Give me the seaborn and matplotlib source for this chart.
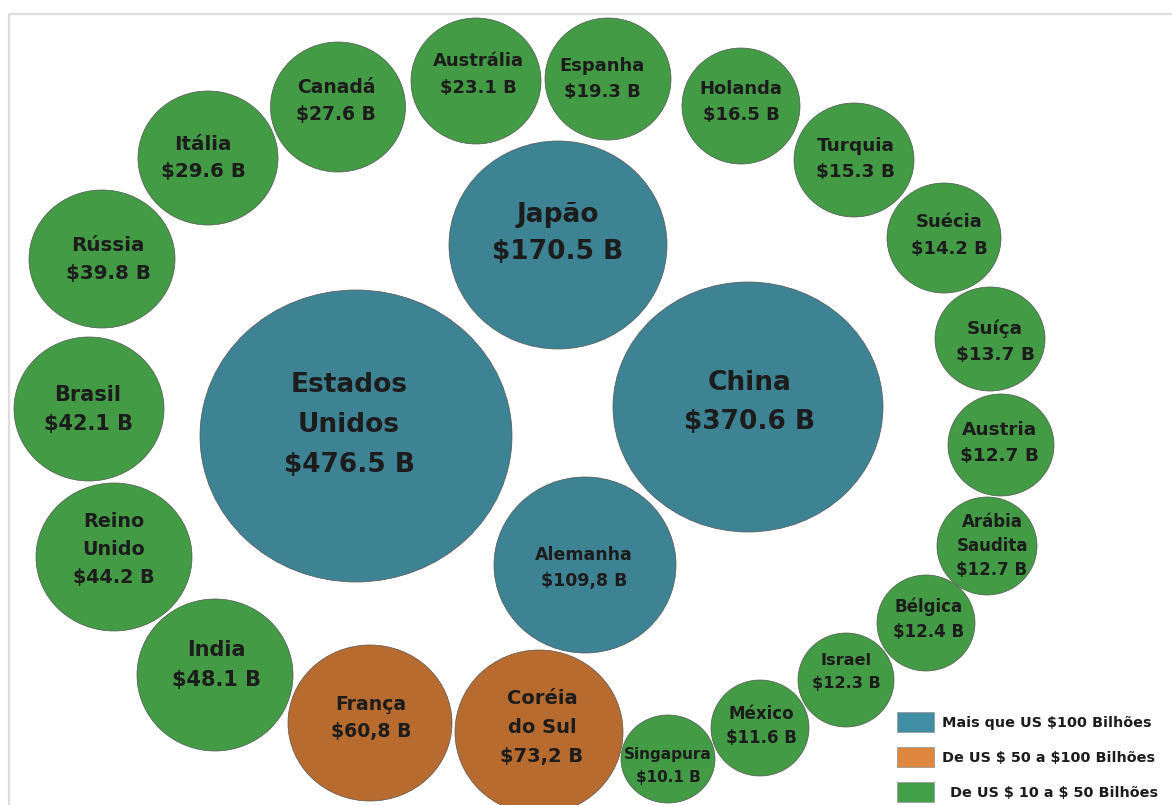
import matplotlib
matplotlib.use("Agg")
import matplotlib.pyplot as plt
from matplotlib.patches import Ellipse, Rectangle
import seaborn as sns
import pandas as pd

# Dados (US$ bilhões)
paises = ["Estados\nUnidos", "China", "Japão", "Alemanha", "Coréia\ndo Sul", "França",
          "India", "Reino\nUnido", "Brasil", "Rússia", "Itália", "Canadá",
          "Austrália", "Espanha", "Holanda", "Turquia", "Suécia", "Suíça",
          "Austria", "Arábia\nSaudita", "Bélgica", "Israel", "México", "Singapura"]
valores = [476.5, 370.6, 170.5, 109.8, 73.2, 60.8,
           48.1, 44.2, 42.1, 39.8, 29.6, 27.6,
           23.1, 19.3, 16.5, 15.3, 14.2, 13.7,
           12.7, 12.7, 12.4, 12.3, 11.6, 10.1]
# países cujo rótulo usa vírgula decimal no original
com_virgula = ["Alemanha", "Coréia\ndo Sul", "França"]
faixas = ["Mais que US $100 Bilhões", "De US $ 50 a $100 Bilhões", "De US $ 10 a $ 50 Bilhões"]

# Layout das bolhas (pixels)
cx = [356, 748, 558, 585, 539, 370, 215, 114, 89, 102, 208, 338,
      476, 608, 741, 854, 944, 990, 1001, 987, 926, 846, 760, 668]
cy = [436, 407, 245, 565, 732, 723, 675, 557, 409, 259, 158, 107,
      81, 79, 106, 160, 238, 339, 445, 546, 623, 680, 728, 759]
rx = [156, 135, 109, 91, 84, 82, 78, 78, 75, 73, 70, 67.5,
      65, 63, 59, 60, 57, 55, 53, 50, 49, 48, 49, 47]
ry = [146, 125, 104, 88, 82, 78, 76, 74, 72, 69, 67, 65,
      63, 61, 58, 57, 55, 52, 51, 49, 48, 47, 48, 44]
tx = [349, 750, 558, 584, 542, 371, 216, 114, 88, 108, 203, 336,
      478, 602, 741, 856, 949, 995, 1000, 992, 929, 846, 761, 668]
ty = [425, 402, 233, 568, 727, 718, 665, 549, 409.5, 259, 158, 101,
      74.5, 79, 102, 159, 235.5, 342, 443, 546, 619, 672, 726, 766]
fs = [19, 19, 19, 12.5, 14, 13.6, 15, 13.8, 15, 14.3, 14.3, 13.5,
      13, 13, 13, 13.3, 13, 13.3, 13.3, 12, 12, 11.6, 12, 11]
gap = [40, 39, 37, 26, 29, 27, 30, 28, 29, 28, 28, 27,
       27, 26, 27, 26, 27, 26, 26, 24, 25, 23, 24, 23]

cores = ["#3e8393", "#b86b2f", "#439b45"]
cores_legenda = ["#3f8ea3", "#df873f", "#42a048"]


def faixa(v):
    if v > 100:
        return 0
    if v >= 50:
        return 1
    return 2


df = pd.DataFrame({"pais": paises, "valor": valores})
df["faixa"] = df["valor"].map(faixa)

sns.set_theme(style="white")
plt.rcParams["font.family"] = ["DejaVu Sans"]
plt.rcParams["text.parse_math"] = False
paleta = sns.color_palette(cores)

fig = plt.figure(figsize=(11.72, 8.05), dpi=100)
ax = fig.add_axes([0, 0, 1, 1])
ax.set_xlim(0, 1172)
ax.set_ylim(805, 0)
ax.axis("off")

# moldura cinza clara
ax.add_patch(Rectangle((9, 14), 1300, 900, fill=False, edgecolor="#dddddd", lw=1.6, zorder=0))

for i, row in df.iterrows():
    ax.add_patch(Ellipse((cx[i], cy[i]), 2 * rx[i], 2 * ry[i],
                         facecolor=paleta[row["faixa"]], edgecolor="#555555",
                         lw=0.5, zorder=2))
    num = f"{row['valor']:.1f}"
    if row["pais"] in com_virgula:
        num = num.replace(".", ",")
    linhas = row["pais"].split("\n") + [f"${num} B"]
    n = len(linhas)
    for k, txt in enumerate(linhas):
        y = ty[i] + (k - (n - 1) / 2) * gap[i]
        ax.text(tx[i], y, txt, ha="center", va="center", fontsize=fs[i],
                fontweight="bold", color="#1c1c1c", zorder=3, parse_math=False)

# legenda
for k, rot in enumerate(faixas):
    yc = 722 + k * 35
    ax.add_patch(Rectangle((897, yc - 10), 37, 20, facecolor=cores_legenda[k],
                           edgecolor="#9a9a9a", lw=0.6, zorder=2))
    ax.text(942 if k < 2 else 950, yc + 1, rot, ha="left", va="center",
            fontsize=10.4, fontweight="bold", color="#1c1c1c", parse_math=False)

plt.savefig("out.png", dpi=100)
